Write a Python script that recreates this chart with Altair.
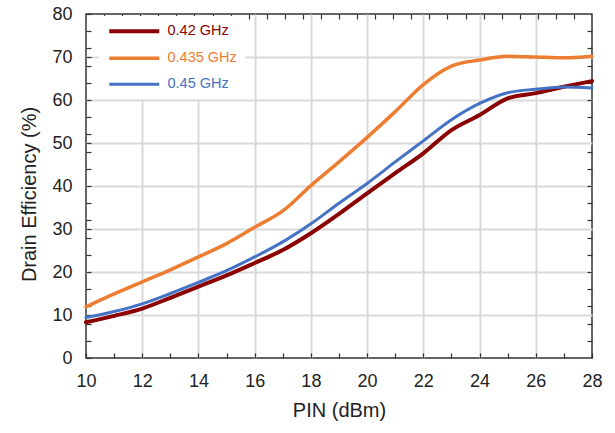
import altair as alt
import pandas as pd

# ---- data ----
pin = list(range(10, 29))
eff_042 = [8.3, 9.8, 11.5, 14.0, 16.6, 19.2, 22.1, 25.1, 29.0, 33.5, 38.3, 43.0,
           47.6, 53.0, 56.5, 60.4, 61.6, 63.1, 64.4]
eff_0435 = [11.9, 14.9, 17.7, 20.5, 23.5, 26.6, 30.4, 34.2, 40.1, 45.6, 51.3, 57.3,
            63.6, 67.9, 69.3, 70.2, 70.0, 69.8, 70.2]
eff_045 = [9.4, 10.8, 12.6, 15.0, 17.6, 20.3, 23.5, 27.0, 31.2, 36.0, 40.6, 45.6,
           50.5, 55.4, 59.2, 61.7, 62.5, 63.0, 62.8]
series = ["0.42 GHz", "0.435 GHz", "0.45 GHz"]
colors = ["#8B0000", "#ED7D31", "#4472C4"]
widths = [4, 3, 4]

x_ticks = list(range(10, 29))                         # labels on even values
y_ticks = sorted(set(list(range(0, 81, 4)) + list(range(0, 81, 10))))  # labels on tens
x_top_ticks = [10 + k * 18 / 28 for k in range(1, 28)]
y_right_ticks = list(range(4, 80, 4))

rows = []
for name, vals in zip(series, [eff_042, eff_0435, eff_045]):
    for p, v in zip(pin, vals):
        rows.append({"pin": p, "eff": v, "freq": name})
df = pd.DataFrame(rows)

FONT = "Liberation Sans"
xs = alt.Scale(domain=[10, 28], nice=False, zero=False)
ys = alt.Scale(domain=[0, 80], nice=False)
INWARD = {"expr": "-5"}

x_axis = alt.Axis(values=x_ticks, grid=True, gridColor="#d9d9d9", gridWidth=2,
                  gridOpacity={"condition": {"test": "datum.value % 2 == 0 && datum.value > 10 && datum.value < 28", "value": 1}, "value": 0},
                  labelExpr="datum.value % 2 == 0 ? datum.label : ''",
                  domain=False, ticks=True, tickSize=INWARD, tickColor="#333", tickWidth=1.2,
                  labelPadding=19, labelFontSize=18,
                  labelFont=FONT, labelColor="#222", titleFont=FONT, titleFontSize=20,
                  titleFontWeight="normal", titleColor="#222", titlePadding=10,
                  labelFlush=False, labelOverlap=False)
y_axis = alt.Axis(values=y_ticks, grid=True, gridColor="#d9d9d9", gridWidth=2,
                  gridOpacity={"condition": {"test": "datum.value % 10 == 0 && datum.value > 0 && datum.value < 80", "value": 1}, "value": 0},
                  labelExpr="datum.value % 10 == 0 ? datum.label : ''",
                  domain=False, ticks=True, tickSize=INWARD, tickColor="#333", tickWidth=1.2,
                  labelPadding=19, labelFontSize=18,
                  labelFont=FONT, labelColor="#222", titleFont=FONT, titleFontSize=20,
                  titleFontWeight="normal", titleColor="#222", titlePadding=12,
                  titleY=180, labelFlush=False, labelOverlap=False)

label_expr = " : ".join(
    [f"datum.label == '{s}' ? '{c}'" for s, c in zip(series[:-1], colors[:-1])]
) + f" : '{colors[-1]}'"

lines = alt.Chart(df).mark_line(interpolate="monotone", strokeCap="round").encode(
    x=alt.X("pin:Q", scale=xs, title="PIN (dBm)", axis=x_axis),
    y=alt.Y("eff:Q", scale=ys, title="Drain Efficiency (%)", axis=y_axis),
    color=alt.Color("freq:N", sort=series,
                    scale=alt.Scale(domain=series, range=colors),
                    legend=alt.Legend(title=None, orient="none", legendX=13, legendY=2,
                                      symbolType="M -1 0 L 9 0", symbolSize=100,
                                      symbolStrokeWidth=3.5, labelOffset=46,
                                      labelFont=FONT, labelFontSize=14.5,
                                      labelColor={"expr": label_expr},
                                      rowPadding=10, padding=8, fillColor="white")),
    strokeWidth=alt.StrokeWidth("freq:N", sort=series,
                                scale=alt.Scale(domain=series, range=widths), legend=None),
)

frame_axes = alt.Chart(df).mark_line(strokeOpacity=0).encode(
    x=alt.X("pin:Q", scale=xs,
            axis=alt.Axis(orient="top", values=x_top_ticks, labels=False, domain=False,
                          grid=False, ticks=True, tickSize=INWARD, tickColor="#333",
                          tickWidth=1.2, title=None)),
    y=alt.Y("eff:Q", scale=ys,
            axis=alt.Axis(orient="right", values=y_right_ticks, labels=False, domain=False,
                          grid=False, ticks=True, tickSize=INWARD, tickColor="#333",
                          tickWidth=1.2, title=None)),
    detail="freq:N",
)

chart = alt.layer(lines, frame_axes).resolve_axis(
    x="independent", y="independent"
).properties(
    width=506, height=344,
    autosize=alt.AutoSizeParams(type="none"),
    padding={"left": 86, "top": 14, "right": 23, "bottom": 75},
    background="white",
).configure_view(stroke="#333", strokeWidth=1.5)

chart.save("out.html", embed_options={"renderer": "svg", "actions": False})
